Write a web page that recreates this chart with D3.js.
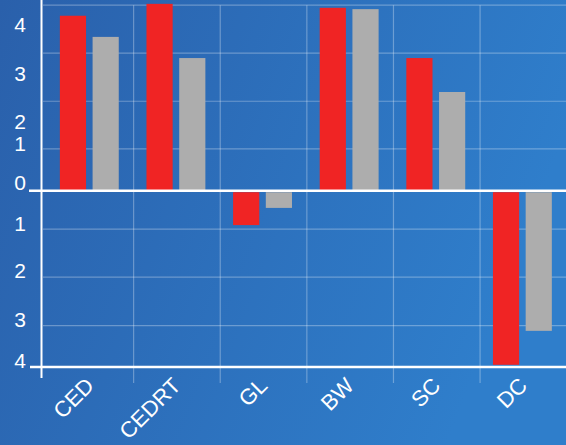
<!DOCTYPE html>
<html><head><meta charset="utf-8">
<script src="https://cdn.jsdelivr.net/npm/d3@7"></script>
<style>html,body{margin:0;padding:0;overflow:hidden;background:#2b66b2}</style>
</head><body>
<script>
const categories = ["CED","CEDRT","GL","BW","SC","DC"];
const seriesA = [3.97, 4.24, -0.78, 4.15, 3.01, -3.95];   // red
const seriesB = [3.49, 3.01, -0.39, 4.12, 2.24, -3.18];   // gray
const tickValues = [3.61, 2.51, 1.41, 0.92, 0.02, -0.91, -1.98, -3.07, -4];
const tickLabels = ["4","3","2","1","0","1","2","3","4"];
const gridValues = [4.21, 3.12, 2.03, 0.95, -0.87, -1.96, -3.06];

const W = 566, H = 445;
const svg = d3.select("body").append("svg").attr("width", W).attr("height", H);
const defs = svg.append("defs");
const grad = defs.append("linearGradient").attr("id","bg").attr("x1","0").attr("y1","0").attr("x2","1").attr("y2","0.3");
grad.append("stop").attr("offset","0").attr("stop-color","#2a60ab");
grad.append("stop").attr("offset","1").attr("stop-color","#2f7ecb");
svg.append("rect").attr("width",W).attr("height",H).attr("fill","url(#bg)");

const y = d3.scaleLinear().domain([-4, 4]).range([367, 190.7 - 4*44.07]);
const x0 = d3.scaleBand().domain(categories).range([46, 565.7]).paddingInner(0.32).paddingOuter(0.16);
const x1 = d3.scaleBand().domain([0,1]).range([0, x0.bandwidth()]).paddingInner(0.2);
const xStep = d3.scaleBand().domain(categories).range([47, 566.7]);

// grid
const grid = svg.append("g").attr("stroke","#ffffff").attr("stroke-opacity",0.3).attr("stroke-width",1.2);
grid.selectAll("line.h").data(gridValues).join("line").attr("class","h")
  .attr("x1",43).attr("x2",W).attr("y1",d=>y(d)).attr("y2",d=>y(d));
grid.selectAll("line.v").data(categories.slice(1)).join("line").attr("class","v")
  .attr("x1",d=>xStep(d)).attr("x2",d=>xStep(d)).attr("y1",y(4.21)).attr("y2",383);

// bars
const g = svg.append("g");
const rows = categories.map((c,i)=>({c, vals:[seriesA[i], seriesB[i]]}));
const colors = ["#f02424","#adadad"];
g.selectAll("g").data(rows).join("g").attr("transform",d=>`translate(${x0(d.c)},0)`)
  .selectAll("rect").data(d=>d.vals.map((v,k)=>({v,k}))).join("rect")
  .attr("x",d=>x1(d.k)).attr("width",x1.bandwidth())
  .attr("y",d=>Math.min(y(d.v), y(0)+1.5)).attr("height",d=>Math.abs(y(d.v)-y(0)) - (d.v<0?1.5:0))
  .attr("fill",d=>colors[d.k]);

// axis lines
svg.append("line").attr("x1",41.5).attr("x2",41.5).attr("y1",0).attr("y2",378).attr("stroke","#fff").attr("stroke-width",2);
svg.append("line").attr("x1",29).attr("x2",W).attr("y1",y(0)).attr("y2",y(0)).attr("stroke","#fff").attr("stroke-width",2.5);
svg.append("line").attr("x1",30).attr("x2",W).attr("y1",y(-4)).attr("y2",y(-4)).attr("stroke","#fff").attr("stroke-width",2.5);

// y tick labels
const yAxis = d3.axisLeft(y).tickValues(tickValues).tickSize(0).tickFormat((d,i)=>tickLabels[i]);
const ya = svg.append("g").attr("transform","translate(26,0)").call(yAxis);
ya.select(".domain").remove();
ya.selectAll("text").attr("x",0).attr("dy","0").attr("fill","#fff")
  .style("font-family","'Liberation Sans', Arial, sans-serif").style("font-size","21px").style("font-weight","300");

// x labels
svg.append("g").selectAll("text").data(categories).join("text")
  .attr("transform",d=>`translate(${x0(d)+x0.bandwidth()/2+6},${387}) rotate(-45)`)
  .attr("text-anchor","end").attr("fill","#fff")
  .style("font-family","'Liberation Sans', Arial, sans-serif").style("font-size","22px")
  .text(d=>d);
</script>
</body></html>
